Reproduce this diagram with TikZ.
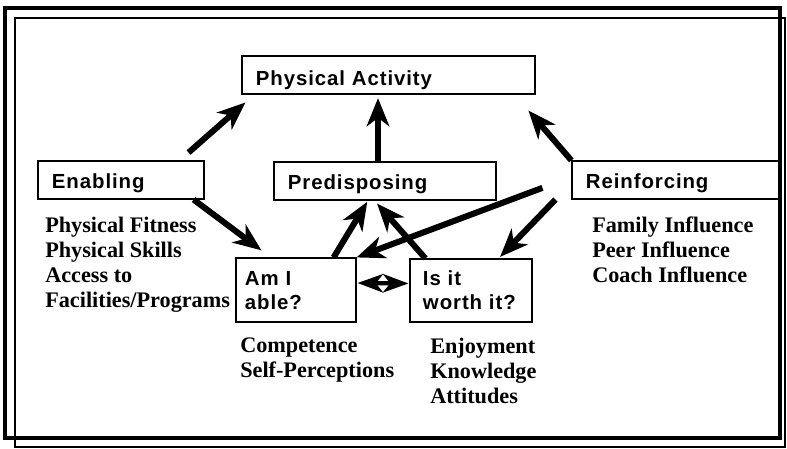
\documentclass[tikz,border=0pt]{standalone}
\usepackage{fontspec}
\setmainfont{Liberation Serif}
\newfontfamily\boxfont[LetterSpace=4.5]{Liberation Sans}
\usetikzlibrary{arrows.meta, calc}

\begin{document}
\begin{tikzpicture}[x=0.025cm, y=-0.025cm,
  box/.style={draw, line width=0.8pt, align=left,
              inner xsep=0.35cm, inner ysep=0pt,
              text height=0.675cm, text depth=0.275cm,
              font=\boxfont\bfseries\fontsize{14.5}{17.7}\selectfont},
  list/.style={anchor=base west, align=left, inner sep=0pt,
               font=\bfseries\fontsize{15.8}{17.7}\selectfont},
  arrow/.style={-{Stealth[length=20pt, width=16pt, inset=6pt]}, line width=4.3pt},
  both/.style={{Stealth[length=18pt, width=13pt, inset=5pt]}-{Stealth[length=18pt, width=13pt, inset=5pt]},
               line width=3pt}
]

% double frame
\useasboundingbox (0,0) rectangle (787,448);
\draw[line width=1.6pt] (15,18) rectangle (785,447);
\draw[line width=2.2pt] (5,8) rectangle (780,438);

% factor boxes
\node[box, text width=6.625cm, text height=0.725cm, text depth=0.225cm] (act) at (388.5,75) {Physical Activity};
\node[box, text width=3.45cm] (enab) at (121,180) {Enabling};
\node[box, text width=4.85cm] (pred) at (385,181) {Predisposing};
\node[box, text width=4.525cm] (reinf) at (676.5,180) {Reinforcing};
\node[box, text width=2.55cm, inner xsep=0.225cm, text height=0.675cm, text depth=0.925cm] (able) at (296,290) {Am I\\able?};
\node[box, text width=2.4cm, inner xsep=0.325cm, text height=0.65cm, text depth=0.925cm] (worth) at (471,290.5) {Is it\\worth it?};

% lists under the boxes
\node[list] (enablist) at (45,307) {Physical Fitness\\Physical Skills\\Access to\\Facilities/Programs};
\node[list] (ablelist) at (240,377) {Competence\\Self-Perceptions};
\node[list] (worthlist) at (430,403) {Enjoyment\\Knowledge\\Attitudes};
\node[list] (reinflist) at (592,282) {Family Influence\\Peer Influence\\Coach Influence};

% arrows
\draw[arrow, shorten <=8.5pt, shorten >=8.5pt] ([shift={(-25,0)}]enab.north east) -- ([shift={(13,0)}]act.south west);
\draw[arrow, shorten >=2.5pt] ([shift={(-7,0)}]pred.north) -- ([shift={(-10.5,0)}]act.south);
\draw[arrow, shorten >=15pt] (reinf.north west) -- ([shift={(-21,0)}]act.south east);
\draw[arrow, shorten >=8.4pt] ([shift={(-11,0)}]enab.south east) -- ([shift={(35.5,0)}]able.north west);
\draw[arrow, shorten >=1pt] ([shift={(-23,0)}]able.north east) -- ([shift={(-17,0)}]pred.south);
\draw[arrow, shorten >=2.8pt] ([shift={(16,0)}]worth.north west) -- ([shift={(-10.6,0)}]pred.south);
\draw[arrow, shorten <=22pt] ([shift={(0,-3)}]reinf.west) -- (able.north east);
\draw[arrow, shorten >=1.5pt] ([shift={(-16,0)}]reinf.south west) -- ([shift={(-34,0)}]worth.north east);
\draw[both] ([shift={(1,-7)}]able.east) -- ([shift={(-1,-7)}]worth.west);

\end{tikzpicture}
\end{document}
